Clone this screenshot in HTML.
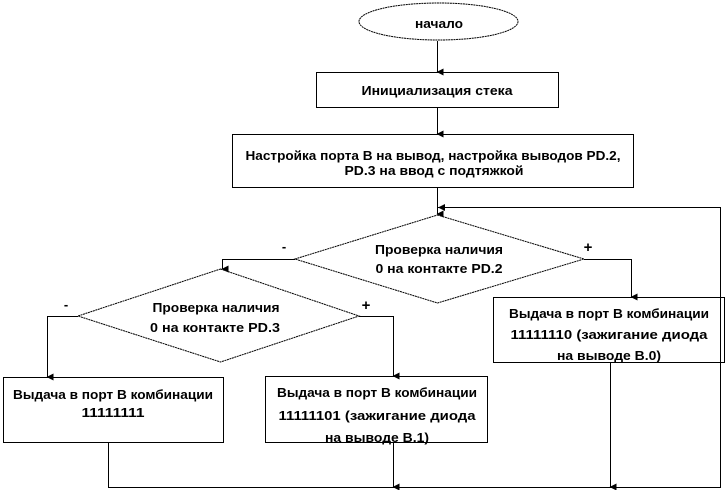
<!DOCTYPE html>
<html><head><meta charset="utf-8"><style>
html,body{margin:0;padding:0;background:#fff;}
svg{display:block;}
text{font-family:"Liberation Sans",sans-serif;font-size:13px;font-weight:bold;fill:#000;text-anchor:middle;}
</style></head><body>
<svg width="726" height="490" viewBox="0 0 726 490" xmlns="http://www.w3.org/2000/svg">
<defs><marker id="a" markerWidth="8" markerHeight="8" refX="4" refY="7" orient="auto" markerUnits="userSpaceOnUse"><path d="M0.5,1 L7.5,1 L4,8 z" fill="#000"/></marker>
<marker id="b" markerWidth="8" markerHeight="8" refX="7" refY="4" orient="auto" markerUnits="userSpaceOnUse"><path d="M0,0.5 L0,7.5 L7,4 z" fill="#000"/></marker></defs>
<g fill="none" stroke="#000" stroke-width="1">
<ellipse cx="438.5" cy="21.5" rx="79.5" ry="18.5" stroke-dasharray="2,0.6"/>
<rect x="316.5" y="72.5" width="242" height="35"/>
<rect x="232.5" y="134.5" width="401" height="53"/>
<polygon points="437.5,215 584,259 437.5,303 295,259" stroke-dasharray="2,0.6"/>
<polygon points="220.5,269 359,316 220.5,362 78,316" stroke-dasharray="2,0.6"/>
<rect x="3.5" y="377.5" width="220" height="65"/>
<rect x="265.5" y="376.5" width="222" height="66"/>
<rect x="493.5" y="297.5" width="231" height="65"/>
<line x1="437.5" y1="41" x2="437.5" y2="72" marker-end="url(#a)"/>
<line x1="437.5" y1="107" x2="437.5" y2="134" marker-end="url(#a)"/>
<line x1="437.5" y1="187" x2="437.5" y2="214" marker-end="url(#a)"/>
<polyline points="108.5,443 108.5,487.5 720.5,487.5 720.5,207.5 438,207.5" marker-end="url(#b)"/>
<polyline points="295,259.5 222.5,259.5 222.5,269" marker-end="url(#a)"/>
<polyline points="584,259.5 631.5,259.5 631.5,297" marker-end="url(#a)"/>
<polyline points="78,316.5 47.5,316.5 47.5,377" marker-end="url(#a)"/>
<polyline points="359,316.5 393.5,316.5 393.5,376" marker-end="url(#a)"/>
<line x1="393.5" y1="443" x2="393.5" y2="487" marker-end="url(#a)"/>
<line x1="610.5" y1="363" x2="610.5" y2="487" marker-end="url(#a)"/>
</g>
<g>
<text x="439" y="28" textLength="48" lengthAdjust="spacingAndGlyphs">начало</text>
<text x="437" y="95" textLength="151" lengthAdjust="spacingAndGlyphs">Инициализация стека</text>
<text x="433" y="160" textLength="375" lengthAdjust="spacingAndGlyphs">Настройка порта B на вывод, настройка выводов PD.2,</text>
<text x="434" y="175" textLength="179" lengthAdjust="spacingAndGlyphs">PD.3 на ввод с подтяжкой</text>
<text x="439" y="254" textLength="128" lengthAdjust="spacingAndGlyphs">Проверка наличия</text>
<text x="439" y="273" textLength="127" lengthAdjust="spacingAndGlyphs">0 на контакте PD.2</text>
<text x="216" y="312" textLength="127" lengthAdjust="spacingAndGlyphs">Проверка наличия</text>
<text x="215" y="332" textLength="130" lengthAdjust="spacingAndGlyphs">0 на контакте PD.3</text>
<text x="113" y="399" textLength="200" lengthAdjust="spacingAndGlyphs">Выдача в порт B комбинации</text>
<text x="113" y="417" textLength="63" lengthAdjust="spacingAndGlyphs">11111111</text>
<text x="377" y="397" textLength="200" lengthAdjust="spacingAndGlyphs">Выдача в порт B комбинации</text>
<text x="377" y="420" textLength="197" lengthAdjust="spacingAndGlyphs">11111101 (зажигание диода</text>
<text x="377" y="442" textLength="104" lengthAdjust="spacingAndGlyphs">на выводе B.1)</text>
<text x="609" y="318" textLength="200" lengthAdjust="spacingAndGlyphs">Выдача в порт B комбинации</text>
<text x="609" y="339" textLength="197" lengthAdjust="spacingAndGlyphs">11111110 (зажигание диода</text>
<text x="609" y="360" textLength="104" lengthAdjust="spacingAndGlyphs">на выводе B.0)</text>
</g>
<text x="284" y="251" style="font-size:13px">-</text>
<text x="588" y="252" style="font-size:15px">+</text>
<text x="66" y="309" style="font-size:13px">-</text>
<text x="366" y="310" style="font-size:15px">+</text>
</svg>
</body></html>
